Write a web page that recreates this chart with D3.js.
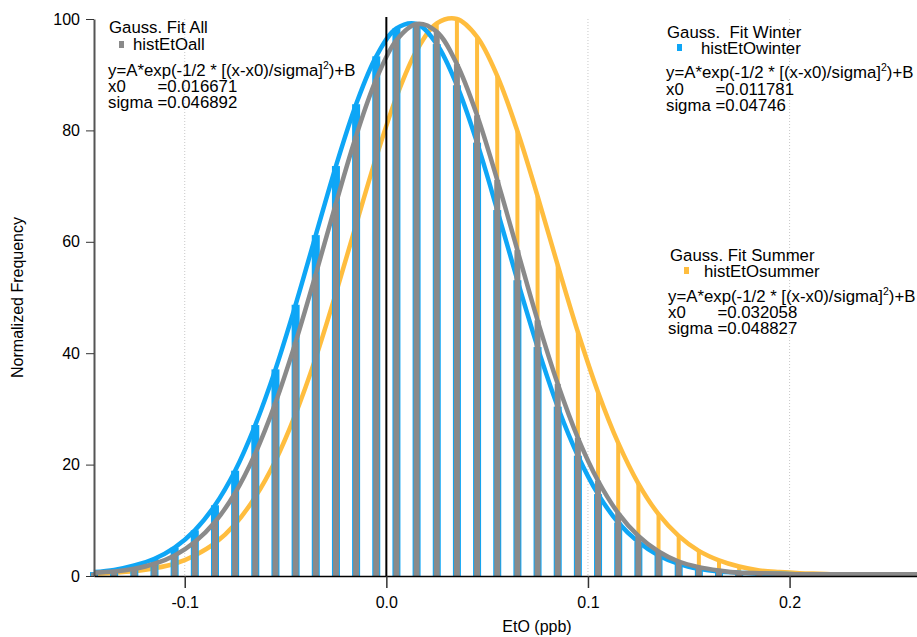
<!DOCTYPE html>
<html><head><meta charset="utf-8">
<script src="https://cdn.jsdelivr.net/npm/d3@7"></script>
<style>
body{margin:0;background:#fff;}
svg{display:block;font-family:"Liberation Sans",Arial,Helvetica,sans-serif;}
</style>
</head><body><svg id="c" width="917" height="637"></svg>
<script>
// ---- data ----
const binCenters = [-0.145,-0.135,-0.125,-0.115,-0.105,-0.095,-0.085,-0.075,-0.065,-0.055,-0.045,-0.035,-0.025,-0.015,-0.005,
  0.005,0.015,0.025,0.035,0.045,0.055,0.065,0.075,0.085,0.095,0.105,0.115,0.125,0.135,0.145,0.155,0.165,0.175,0.185,0.195];
const histAll    = [0.6,0.8,1.3,2.2,3.7,6.1,9.7,14.9,22.0,31.1,42.0,54.2,66.9,79.0,89.2,96.2,99.1,97.7,91.9,82.7,71.1,58.5,45.9,34.5,24.8,17.1,11.3,7.2,4.4,2.6,1.6,1.0,0.6,0.5,0.4];
const histWinter = [0.7,1.1,1.9,3.1,5.1,8.2,12.7,18.9,27.1,37.1,48.7,61.2,73.6,84.7,93.3,98.3,99.1,95.5,88.1,77.8,65.7,53.1,41.1,30.4,21.6,14.7,9.6,6.1,3.7,2.2,1.3,0.8,0.6,0.4,0.4];
const histSummer = [0.4,0.6,0.9,1.4,2.2,3.7,5.9,9.3,14.2,20.7,29.1,39.2,50.8,63.1,75.2,86.0,94.3,99.2,100.0,96.8,89.8,79.9,68.2,55.8,43.8,33.0,23.9,16.6,11.1,7.2,4.5,2.8,1.7,1.0,0.7];

const fitX = [-0.145,-0.135,-0.125,-0.115,-0.105,-0.095,-0.085,-0.075,-0.065,-0.055,-0.045,-0.035,-0.025,-0.015,-0.005,
  0.005,0.015,0.025,0.035,0.045,0.055,0.065,0.075,0.085,0.095,0.105,0.115,0.125,0.135,0.145,0.155,0.165,0.175,0.185,0.195,
  0.205,0.215,0.225,0.235,0.245,0.255,0.265];
const fitAll    = [0.6,0.8,1.3,2.2,3.7,6.1,9.7,14.9,22.0,31.1,42.0,54.2,66.9,79.0,89.2,96.2,99.1,97.7,91.9,82.7,71.1,58.5,45.9,34.5,24.8,17.1,11.3,7.2,4.4,2.6,1.6,1.0,0.6,0.5,0.4,0.3,0.3,0.3,0.3,0.3,0.3,0.3];
const fitWinter = [0.7,1.1,1.9,3.1,5.1,8.2,12.7,18.9,27.1,37.1,48.7,61.2,73.6,84.7,93.3,98.3,99.1,95.5,88.1,77.8,65.7,53.1,41.1,30.4,21.6,14.7,9.6,6.1,3.7,2.2,1.3,0.8,0.6,0.4,0.4,0.3,0.3,0.3,0.3,0.3,0.3,0.3];
const fitSummer = [0.4,0.6,0.9,1.4,2.2,3.7,5.9,9.3,14.2,20.7,29.1,39.2,50.8,63.1,75.2,86.0,94.3,99.2,100.0,96.8,89.8,79.9,68.2,55.8,43.8,33.0,23.9,16.6,11.1,7.2,4.5,2.8,1.7,1.0,0.7,0.5,0.4,0.3,0.3,0.3,0.3,0.3];

const xTicks = [-0.1, 0.0, 0.1, 0.2];
const xTickLabels = ["-0.1", "0.0", "0.1", "0.2"];
const yTicks = [0, 20, 40, 60, 80, 100];
const gridX = [-0.1, 0.1, 0.2];

const legendTitles = ["Gauss. Fit All", "Gauss.  Fit Winter", "Gauss. Fit Summer"];
const legendNames = ["histEtOall", "histEtOwinter", "histEtOsummer"];
const legendX0 = ["0.016671", "0.011781", "0.032058"];
const legendSigma = ["0.046892", "0.04746", "0.048827"];

// ---- styling ----
const C_GRAY = "#8a8a8a", C_BLUE = "#0ea6f6", C_ORANGE = "#ffbd3e";
const LF = 16.8;

const svg = d3.select("#c");
const x = d3.scaleLinear().domain([-0.145, 0.2632]).range([94, 917]);
const y = d3.scaleLinear().domain([0, 100]).range([576, 19]);

// grid
svg.append("g").selectAll("line").data(gridX).join("line")
  .attr("x1", d => x(d)).attr("x2", d => x(d))
  .attr("y1", y(100)).attr("y2", y(0))
  .attr("stroke", "#c8c8c8").attr("stroke-width", 1).attr("stroke-dasharray", "1,2");

// legends
function legend(i, lx, yb, mk, hx) {
  const g = svg.append("g").attr("font-size", LF).attr("fill", "#000");
  g.append("text").attr("x", lx.title).attr("y", yb[0]).style("white-space", "pre").text(legendTitles[i]);
  g.append("rect").attr("x", mk[0]).attr("y", mk[1]).attr("width", 5).attr("height", 7)
    .attr("fill", [C_GRAY, C_BLUE, C_ORANGE][i]);
  g.append("text").attr("x", hx).attr("y", yb[1]).text(legendNames[i]);
  const f = g.append("text").attr("x", lx.body).attr("y", yb[2]);
  f.append("tspan").text("y=A*exp(-1/2 * [(x-x0)/sigma]");
  f.append("tspan").attr("font-size", 10.5).attr("dy", -7).text("2");
  f.append("tspan").attr("dy", 7).text(")+B");
  g.append("text").attr("x", lx.body).attr("y", yb[4]).style("white-space", "pre").text("sigma =" + legendSigma[i]);
  const tmp = g.append("text").style("white-space", "pre").text("sigma ");
  const w = tmp.node().getComputedTextLength(); tmp.remove();
  const t = g.append("text").attr("y", yb[3]);
  t.append("tspan").attr("x", lx.body).text("x0");
  t.append("tspan").attr("x", lx.body + w).text("=" + legendX0[i]);
}
legend(0, {title: 109, body: 108}, [33, 50, 76, 92, 108], [119, 41], 133);
legend(1, {title: 667, body: 666}, [38, 54, 78, 95, 111], [677, 44], 701);
legend(2, {title: 670, body: 668}, [261, 277, 302, 318, 334], [684, 267], 704);

// bars + curves
const line = d3.line().x(d => x(d[0])).y(d => y(d[1])).curve(d3.curveCatmullRom.alpha(0.5));
function bars(vals, w, color) {
  svg.append("g").selectAll("rect").data(binCenters).join("rect")
    .attr("x", d => x(d) - w / 2).attr("width", w)
    .attr("y", (d, i) => y(vals[i])).attr("height", (d, i) => y(0) - y(vals[i]))
    .attr("fill", color);
}
function curve(vals, color) {
  svg.append("path").datum(fitX.map((d, i) => [d, vals[i]]))
    .attr("d", line).attr("fill", "none").attr("stroke", color)
    .attr("stroke-width", 4.5).attr("stroke-linejoin", "round");
}
bars(histSummer, 4, C_ORANGE);
curve(fitSummer, C_ORANGE);
bars(histWinter, 8, C_BLUE);
curve(fitWinter, C_BLUE);
bars(histAll, 6, C_GRAY);
curve(fitAll, C_GRAY);

// zero line
svg.append("line").attr("x1", x(0)).attr("x2", x(0)).attr("y1", 17).attr("y2", y(0))
  .attr("stroke", "#000").attr("stroke-width", 2);

// axes
const ya = svg.append("g").attr("transform", "translate(94,0)")
  .call(d3.axisLeft(y).tickValues(yTicks).tickSize(8).tickSizeOuter(0).tickPadding(6));
ya.select(".domain").attr("stroke", "#555").attr("stroke-width", 2);
ya.selectAll(".tick line").attr("stroke", "#333").attr("stroke-width", 1);
ya.selectAll("text").attr("font-size", 16).attr("fill", "#000");
ya.attr("font-family", null);

const xa = svg.append("g").attr("transform", "translate(0,576)")
  .call(d3.axisBottom(x).tickValues(xTicks).tickFormat((d, i) => xTickLabels[i]).tickSize(12).tickSizeOuter(0).tickPadding(9));
xa.select(".domain").attr("stroke", "#000").attr("stroke-width", 1.5);
xa.selectAll(".tick line").attr("stroke", "#333").attr("stroke-width", 1.5);
xa.selectAll("text").attr("font-size", 16).attr("fill", "#000");
xa.attr("font-family", null);

svg.append("text").attr("x", 537).attr("y", 632).attr("text-anchor", "middle")
  .attr("font-size", 16).text("EtO (ppb)");
svg.append("text").attr("transform", "translate(23,297.5) rotate(-90)").attr("text-anchor", "middle")
  .attr("font-size", 16).text("Normalized Frequency");
</script>
</body></html>
